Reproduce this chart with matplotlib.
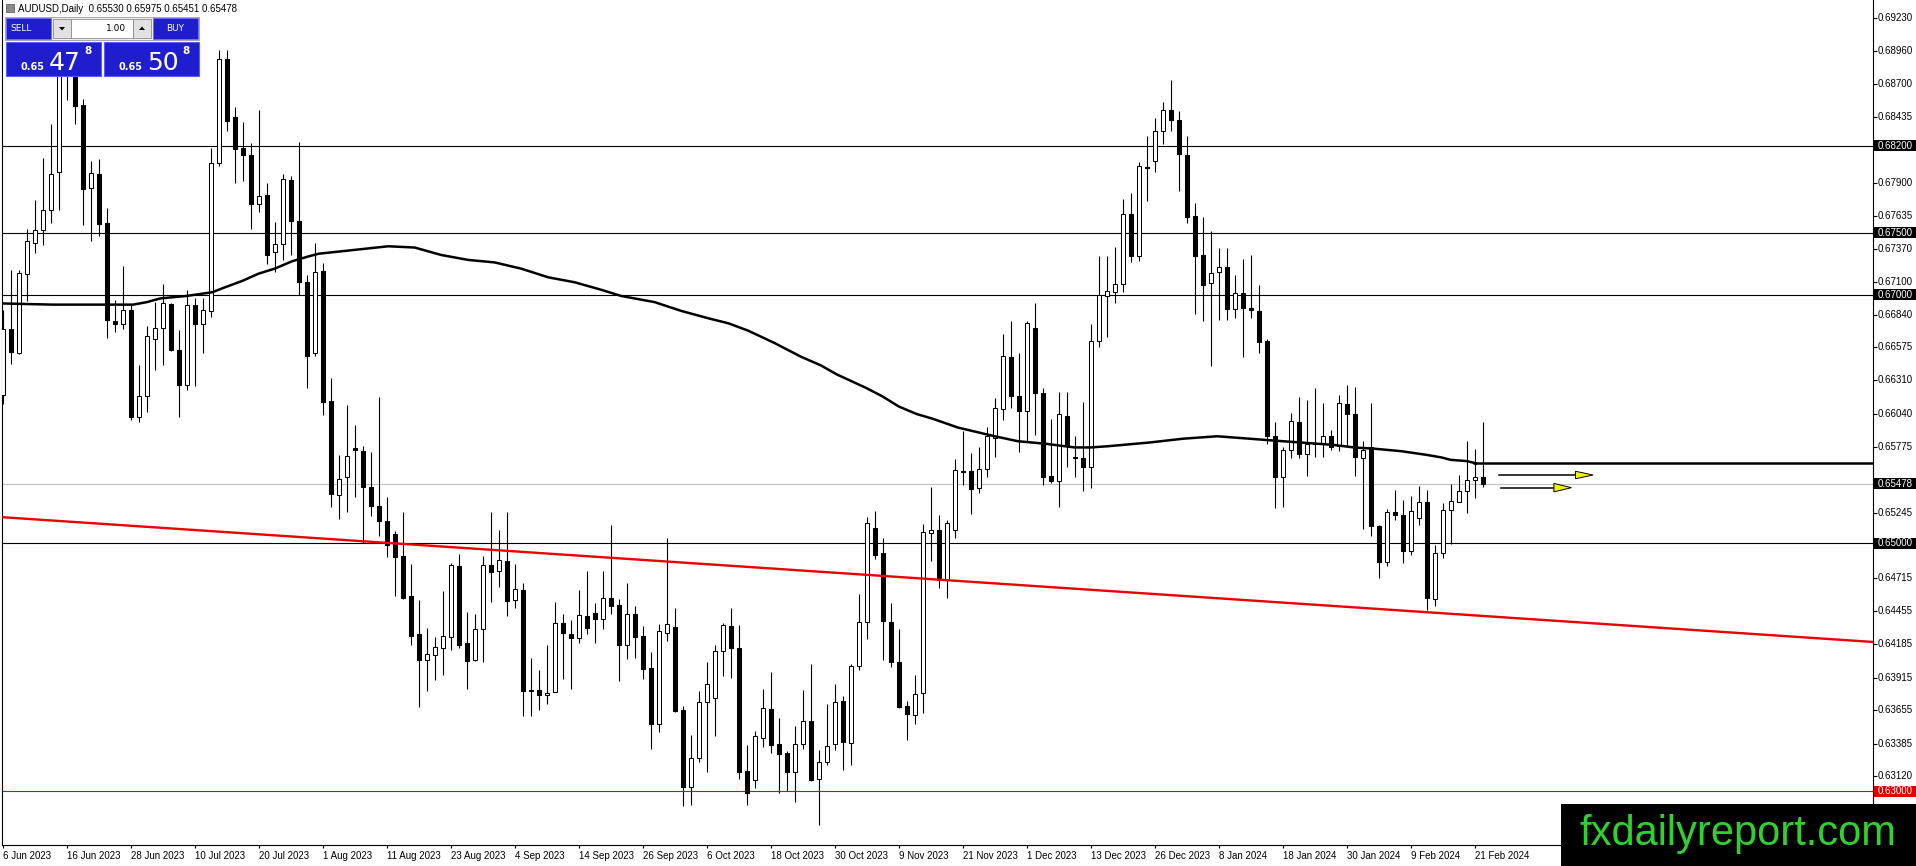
import matplotlib
matplotlib.use("Agg")
import matplotlib.pyplot as plt
from matplotlib.patches import Rectangle, Polygon
import matplotlib.transforms as mtransforms

# ---------------- data ----------------
opens = [0.66189,0.66726,0.66533,0.67169,0.67419,0.67523,0.67685,0.67988,0.68820,0.68780,
         0.68525,0.67862,0.67974,0.67580,0.66791,0.66766,0.66879,0.66015,0.66181,0.66646,
         0.66734,0.66928,0.66552,0.66270,0.66920,0.66764,0.66871,0.68064,0.68898,0.68434,
         0.68181,0.68125,0.67730,0.67803,0.67346,0.67408,0.67926,0.67596,0.67105,0.66530,
         0.67188,0.66140,0.65387,0.65529,0.65765,0.65744,0.65448,0.65301,0.65180,0.65072,
         0.64898,0.64576,0.64270,0.64055,0.64095,0.64154,0.64240,0.64817,0.64195,0.64055,
         0.64307,0.64826,0.64772,0.64852,0.64538,0.64624,0.63813,0.63813,0.63776,0.63797,
         0.64356,0.64267,0.64235,0.64415,0.64436,0.64388,0.64557,0.64501,0.64181,0.64428,
         0.64248,0.63993,0.63542,0.64275,0.64323,0.63658,0.63032,0.63268,0.63720,0.63749,
         0.64128,0.64329,0.64154,0.63161,0.63094,0.63430,0.63663,0.63381,0.63309,0.63156,
         0.63381,0.63564,0.63102,0.63236,0.63381,0.63730,0.63389,0.64007,0.64364,0.65121,
         0.64919,0.64364,0.64042,0.63685,0.63612,0.63792,0.65081,0.65107,0.64705,0.65107,
         0.65575,0.65580,0.65440,0.65593,0.65843,0.66077,0.66495,0.66184,0.66066,0.66729,
         0.66205,0.65539,0.65502,0.66023,0.65690,0.65682,0.65615,0.66630,0.66992,0.67024,
         0.67083,0.67647,0.67314,0.68031,0.68077,0.68320,0.68490,0.68410,0.68125,0.67634,
         0.67319,0.67091,0.67180,0.67220,0.66882,0.67011,0.66890,0.66868,0.66627,0.65862,
         0.65534,0.65749,0.65972,0.65717,0.65803,0.65803,0.65862,0.65784,0.66122,0.66039,
         0.65685,0.65773,0.65140,0.64844,0.65250,0.65225,0.64933,0.65201,0.65330,0.64549,
         0.64919,0.65263,0.65330,0.65416,0.65505,0.65530]
highs = [0.66879,0.67196,0.67201,0.67532,0.67760,0.68101,0.68377,0.68900,0.69000,0.68850,
         0.68579,0.68074,0.68095,0.67701,0.66960,0.67234,0.66914,0.66431,0.66745,0.66941,
         0.67083,0.66936,0.66713,0.67035,0.66973,0.66973,0.68185,0.68973,0.68973,0.68514,
         0.68393,0.68221,0.68487,0.67899,0.67588,0.67972,0.67953,0.68232,0.67158,0.67416,
         0.67255,0.66326,0.65709,0.66111,0.65953,0.65784,0.65736,0.66173,0.65370,0.65100,
         0.65250,0.64834,0.64538,0.64315,0.64243,0.64611,0.64839,0.64911,0.64442,0.64431,
         0.64898,0.65250,0.65107,0.65250,0.64834,0.64678,0.64074,0.63980,0.64181,0.64528,
         0.64431,0.64377,0.64624,0.64772,0.64517,0.64772,0.65148,0.64549,0.64678,0.64490,
         0.64329,0.64120,0.64350,0.65040,0.64477,0.63690,0.63456,0.63805,0.64039,0.64181,
         0.64356,0.64477,0.64342,0.63376,0.63483,0.63824,0.63958,0.63591,0.63322,0.63523,
         0.63819,0.64026,0.63336,0.63703,0.63864,0.63765,0.64026,0.64589,0.65207,0.65260,
         0.65040,0.64517,0.64307,0.63725,0.63940,0.65153,0.65451,0.65228,0.65188,0.65679,
         0.65905,0.65722,0.65776,0.65932,0.66165,0.66683,0.66791,0.66527,0.66791,0.66930,
         0.66246,0.66000,0.66219,0.66219,0.65862,0.66138,0.66764,0.67311,0.67311,0.67387,
         0.67768,0.67816,0.68071,0.68278,0.68420,0.68550,0.68730,0.68480,0.68280,0.67741,
         0.67623,0.67515,0.67379,0.67379,0.67158,0.67287,0.67320,0.67078,0.66640,0.65977,
         0.65776,0.66044,0.66173,0.66152,0.66246,0.66130,0.65910,0.66195,0.66275,0.66256,
         0.65824,0.66128,0.65145,0.65274,0.65430,0.65349,0.65376,0.65462,0.65430,0.64987,
         0.65322,0.65478,0.65550,0.65824,0.65757,0.65975]
lows = [0.66122,0.66444,0.66519,0.66949,0.67338,0.67400,0.67577,0.67685,0.68570,0.68372,
        0.67558,0.67430,0.67470,0.66651,0.66699,0.66721,0.65993,0.65975,0.66055,0.66390,
        0.66431,0.66546,0.66015,0.66230,0.66267,0.66530,0.66817,0.68040,0.68321,0.67897,
        0.67913,0.67529,0.67663,0.67247,0.67180,0.67279,0.67320,0.66997,0.66246,0.66509,
        0.66030,0.65287,0.65190,0.65248,0.65369,0.65000,0.65220,0.65060,0.64885,0.64570,
        0.64549,0.64181,0.63679,0.63811,0.63894,0.63934,0.64136,0.64154,0.63827,0.64047,
        0.64039,0.64522,0.64643,0.64409,0.64477,0.63604,0.63604,0.63652,0.63706,0.63797,
        0.63909,0.63827,0.64195,0.64270,0.64195,0.64307,0.64431,0.63886,0.64066,0.64074,
        0.63905,0.63341,0.63475,0.64208,0.63636,0.62879,0.62893,0.63234,0.63153,0.63448,
        0.63932,0.63913,0.63099,0.62893,0.63027,0.63357,0.63309,0.62987,0.63005,0.62914,
        0.63344,0.63080,0.62726,0.63215,0.63336,0.63174,0.63215,0.63980,0.64227,0.64871,
        0.64060,0.63999,0.63671,0.63416,0.63542,0.63631,0.64858,0.64638,0.64557,0.65040,
        0.65467,0.65234,0.65405,0.65529,0.65695,0.65991,0.66085,0.65736,0.65817,0.65871,
        0.65467,0.65486,0.65287,0.65609,0.65529,0.65422,0.65440,0.66581,0.66656,0.66930,
        0.67024,0.67266,0.67274,0.67757,0.67991,0.68213,0.68320,0.67838,0.67580,0.66846,
        0.66792,0.66428,0.66796,0.66796,0.66809,0.66495,0.66809,0.66528,0.65797,0.65279,
        0.65287,0.65682,0.65682,0.65540,0.65690,0.65690,0.65749,0.65738,0.65784,0.65542,
        0.65113,0.65054,0.64718,0.64812,0.65183,0.64839,0.64906,0.65148,0.64463,0.64495,
        0.64879,0.64995,0.65328,0.65242,0.65362,0.65451]
closes = [0.66726,0.66538,0.67177,0.67435,0.67523,0.67685,0.67974,0.68820,0.68780,0.68522,
          0.67848,0.67983,0.67572,0.66799,0.66764,0.66879,0.66015,0.66181,0.66664,0.66734,
          0.66936,0.66557,0.66275,0.66920,0.66764,0.66877,0.68064,0.68898,0.68396,0.68173,
          0.68125,0.67730,0.67797,0.67319,0.67405,0.67932,0.67591,0.67099,0.66503,0.67180,
          0.66138,0.65395,0.65516,0.65698,0.65749,0.65448,0.65301,0.65180,0.64981,0.64885,
          0.64557,0.64254,0.64055,0.64106,0.64162,0.64248,0.64826,0.64181,0.64047,0.64307,
          0.64826,0.64764,0.64860,0.64530,0.64630,0.63805,0.63805,0.63779,0.63792,0.64356,
          0.64275,0.64235,0.64420,0.64315,0.64388,0.64557,0.64490,0.64181,0.64428,0.64243,
          0.63985,0.63542,0.64289,0.64348,0.63650,0.63032,0.63268,0.63720,0.63867,0.64133,
          0.64337,0.64154,0.63153,0.62987,0.63443,0.63671,0.63376,0.63301,0.63156,0.63381,
          0.63564,0.63094,0.63236,0.63368,0.63720,0.63395,0.64007,0.64364,0.65161,0.64901,
          0.64369,0.64042,0.63677,0.63623,0.63784,0.65089,0.65107,0.64705,0.65161,0.65591,
          0.65578,0.65435,0.65593,0.65862,0.66085,0.66506,0.66184,0.66066,0.66769,0.66211,
          0.65534,0.65502,0.66039,0.65781,0.65685,0.65615,0.66630,0.66997,0.67032,0.67083,
          0.67647,0.67314,0.68039,0.68017,0.68320,0.68490,0.68410,0.68130,0.67628,0.67314,
          0.67078,0.67172,0.67220,0.66882,0.67011,0.66890,0.66880,0.66621,0.65862,0.65534,
          0.65749,0.65985,0.65717,0.65797,0.65800,0.65862,0.65770,0.66128,0.66039,0.65693,
          0.65752,0.65134,0.64844,0.65247,0.65223,0.64933,0.65260,0.65330,0.64557,0.64919,
          0.65263,0.65336,0.65416,0.65505,0.65532,0.65478]

# moving average read at bar positions
ma_bar = [-0.3,6.3,12.2,16.3,18.0,19.7,21.3,23.0,26.2,27.8,29.9,32.0,34.0,36.2,38.3,39.5,42.4,45.3,
          48.2,51.5,54.8,58.2,61.5,64.8,68.2,71.5,74.8,77.3,81.5,84.8,88.2,90.7,93.2,96.5,99.8,
          102.3,104.2,107.9,110.0,112.0,114.2,116.3,119.4,124.0,126.9,130.3,134.0,136.0,138.2,
          143.4,147.5,151.8,155.9,160.0,162.2,166.4,168.9,171.4,174.8,178.0,179.8,181.0,183.0,184.3]
ma_val = [0.6693,0.6692,0.6692,0.6692,0.6694,0.6697,0.6698,0.6699,0.6702,0.6706,0.6711,0.6717,
          0.6721,0.6727,0.6731,0.6733,0.6735,0.6737,0.6739,0.6738,0.6732,0.6728,0.6726,0.6721,
          0.6714,0.6710,0.6704,0.6699,0.6694,0.6687,0.6681,0.6677,0.6671,0.6661,0.6650,0.6643,
          0.6636,0.6625,0.6618,0.6610,0.6604,0.6600,0.6593,0.6586,0.6582,0.6580,0.6577,0.6577,
          0.6578,0.6581,0.6584,0.6586,0.6584,0.6582,0.6581,0.6579,0.6577,0.6576,0.6574,0.6571,
          0.6569,0.6567,0.6566,0.6564]

date_bars = list(range(0, 185, 8))
date_labels = ["6 Jun 2023","16 Jun 2023","28 Jun 2023","10 Jul 2023","20 Jul 2023","1 Aug 2023",
               "11 Aug 2023","23 Aug 2023","4 Sep 2023","14 Sep 2023","26 Sep 2023","6 Oct 2023",
               "18 Oct 2023","30 Oct 2023","9 Nov 2023","21 Nov 2023","1 Dec 2023","13 Dec 2023",
               "26 Dec 2023","8 Jan 2024","18 Jan 2024","30 Jan 2024","9 Feb 2024","21 Feb 2024"]

price_labels = ["0.69230","0.68960","0.68700","0.68435","0.67900","0.67635","0.67370","0.67100",
                "0.66840","0.66575","0.66310","0.66040","0.65775","0.65245","0.64715","0.64455",
                "0.64185","0.63915","0.63655","0.63385","0.63120"]
level_black = [0.68200, 0.67500, 0.67000, 0.65000]
level_red = 0.63000
bid_price = 0.65478
resist_level = 0.65647
trend_p1 = (0, 0.65208)
trend_p2 = (185, 0.64413)
arrow1 = (187.0, 196.6, 198.8, 0.65548)
arrow2 = (187.3, 193.9, 196.1, 0.65446)

symbol_text = "AUDUSD,Daily  0.65530 0.65975 0.65451 0.65478"
watermark = "fxdailyreport.com"

# ---------------- figure ----------------
W, H = 1916, 866
fig = plt.figure(figsize=(W/100, H/100), dpi=100)
fig.patch.set_facecolor("white")
ax_l, ax_r, ax_b = 2.0, 1873.0, 845.0
ax = fig.add_axes([ax_l/W, (H-ax_b)/H, (ax_r-ax_l)/W, ax_b/H])
ax.set_facecolor("white")

n = len(opens)
xs = list(range(n))
ax.vlines(xs, lows, highs, color="black", lw=0.8, zorder=3)
bottoms = [min(o, c) for o, c in zip(opens, closes)]
heights = [max(abs(c - o), 0.00003) for o, c in zip(opens, closes)]
colors = ["white" if c >= o else "black" for o, c in zip(opens, closes)]
ax.bar(xs, heights, bottom=bottoms, width=0.5, color=colors, edgecolor="black",
       linewidth=0.75, zorder=4)

# horizontal levels
for lv in level_black:
    ax.axhline(lv, color="black", lw=0.8, zorder=2)
ax.axhline(level_red, color="#e00000", lw=0.8, zorder=2)
ax.axhline(bid_price, color="#c0c0c0", lw=0.8, zorder=1)

# trend line and MA
ax.axline(trend_p1, trend_p2, color="#ee0000", lw=1.7, zorder=5)
ax.plot(ma_bar, ma_val, color="black", lw=1.8, zorder=6, solid_capstyle="butt")
ax.hlines(resist_level, 183.8, 240, color="black", lw=1.8, zorder=6)

# yellow arrows
for (x0, x1, xt, yv), hh in ((arrow1, 0.00030), (arrow2, 0.00034)):
    ax.plot([x0, x1], [yv, yv], color="black", lw=1.1, zorder=7)
    ax.add_patch(Polygon([[x1, yv + hh], [xt, yv], [x1, yv - hh]], closed=True,
                         facecolor="#f2f200", edgecolor="black", lw=0.7, zorder=8))

ymin, ymax = 0.625682, 0.693734
xmin = (ax_l - 2.7) / 8.0
xmax = (ax_r - 2.7) / 8.0
ax.set_xlim(xmin, xmax)
ax.set_ylim(ymin, ymax)

for s in ("left", "right", "bottom"):
    ax.spines[s].set_color("black")
    ax.spines[s].set_linewidth(0.8)
ax.spines["top"].set_visible(False)

ax.set_xticks(date_bars)
ax.set_xticklabels(date_labels, fontsize=7, family="Liberation Sans")
for t in ax.get_xticklabels():
    t.set_ha("left")
ax.tick_params(axis="x", length=2.5, width=0.8, pad=1.5, direction="out")
ax.yaxis.tick_right()
ax.set_yticks([float(p) for p in price_labels])
ax.set_yticklabels([])
ax.tick_params(axis="y", length=3, width=0.8, direction="out")
ax.set_ylim(ymin, ymax)

# right-axis price labels
bt = mtransforms.blended_transform_factory(ax.transAxes, ax.transData)
def fx(px):
    return (px - ax_l) / (ax_r - ax_l)
for p in price_labels:
    ax.text(fx(1878), float(p), p, transform=bt, fontsize=7, family="Liberation Sans",
            va="center", ha="left", clip_on=False)
hb = 11.0 / 12417.0
def boxed(val, face):
    ax.add_patch(Rectangle((fx(1874), val - hb/2), fx(1916) - fx(1874), hb, transform=bt,
                           facecolor=face, edgecolor="none", clip_on=False, zorder=9))
    ax.text(fx(1878), val, f"{val:.5f}", transform=bt, fontsize=7, family="Liberation Sans",
            color="white", va="center", ha="left", clip_on=False, zorder=10)
for lv in level_black:
    boxed(lv, "black")
boxed(bid_price, "black")
boxed(level_red, "#e00000")

# ---------------- overlay (pixel coords): one-click panel + watermark ----------------
ov = fig.add_axes([0, 0, 1, 1], zorder=20)
ov.set_xlim(0, W)
ov.set_ylim(H, 0)
ov.axis("off")
ov.patch.set_alpha(0)

ov.add_patch(Rectangle((6, 4), 8, 8, facecolor="#8a8a8a", edgecolor="#505050", lw=0.5))
ov.text(18, 8.5, symbol_text, fontsize=7, family="Liberation Sans", va="center", ha="left")

blue = "#1e1ecf"
ov.add_patch(Rectangle((5, 17), 194, 23, facecolor="#eeeeee", edgecolor="#9a9a9a", lw=0.6))
ov.add_patch(Rectangle((6, 18), 45, 21, facecolor=blue, edgecolor="#6a6aff", lw=0.6))
ov.text(21, 28.5, "SELL", fontsize=6.5, color="white", family="DejaVu Sans", ha="center", va="center")
ov.add_patch(Rectangle((53, 19), 18, 19, facecolor="#e2e2e2", edgecolor="#8c8c8c", lw=0.6))
ov.add_patch(Polygon([[59, 27], [65, 27], [62, 30.5]], closed=True, facecolor="black", edgecolor="none"))
ov.add_patch(Rectangle((71, 19), 62, 19, facecolor="white", edgecolor="#8c8c8c", lw=0.6))
ov.text(126, 28.5, "1.00", fontsize=6.5, color="black", family="DejaVu Sans", ha="right", va="center")
ov.add_patch(Rectangle((133, 19), 18, 19, facecolor="#e2e2e2", edgecolor="#8c8c8c", lw=0.6))
ov.add_patch(Polygon([[139, 30], [145, 30], [142, 26.5]], closed=True, facecolor="black", edgecolor="none"))
ov.add_patch(Rectangle((153, 18), 45, 21, facecolor=blue, edgecolor="#6a6aff", lw=0.6))
ov.text(175, 28.5, "BUY", fontsize=6.5, color="white", family="DejaVu Sans", ha="center", va="center")

for x0, small, big, sup in ((6, "0.65", "47", "8"), (104, "0.65", "50", "8")):
    ov.add_patch(Rectangle((x0, 42), 95, 34, facecolor=blue, edgecolor="#5a5aff", lw=0.8))
    ov.text(x0 + 14.5, 66.5, small, fontsize=7, color="white", family="DejaVu Sans",
            ha="left", va="center", weight="bold")
    ov.text(x0 + 59, 62.5, big, fontsize=18, color="white", family="DejaVu Sans",
            ha="center", va="center")
    ov.text(x0 + 82, 51, sup, fontsize=7.5, color="white", family="DejaVu Sans",
            ha="center", va="center", weight="bold")

# watermark box bottom-right
ov.add_patch(Rectangle((1561, 804), W - 1561, H - 804, facecolor="black", edgecolor="none"))
ov.text(1738, 834, watermark, fontsize=30, color="#2fd12f", family="Liberation Sans",
        ha="center", va="center")

fig.savefig("out.png", dpi=100, facecolor="white")
